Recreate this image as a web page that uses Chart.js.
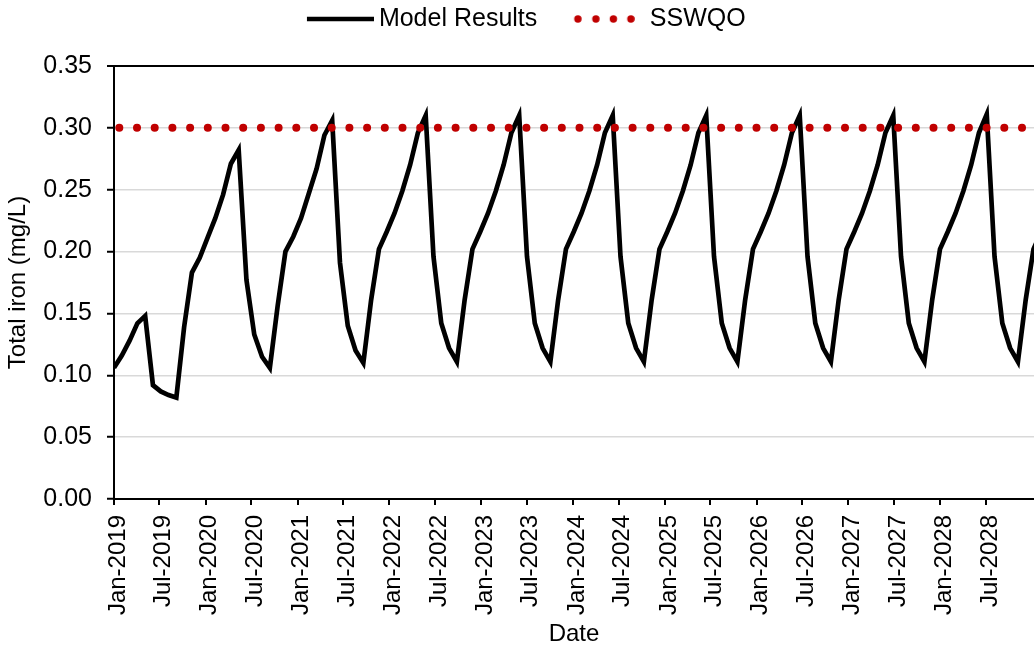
<!DOCTYPE html>
<html>
<head>
<meta charset="utf-8">
<script src="https://cdn.jsdelivr.net/npm/chart.js@4.4.0/dist/chart.umd.min.js"></script>
<style>
html,body{margin:0;padding:0;background:#fff;overflow:hidden}
#wrap{width:1034px;height:649px;position:relative}
</style>
</head>
<body>
<div id="wrap"><canvas id="c" width="1034" height="649"></canvas></div>
<script>
// ---- data ----
const startDate = Date.UTC(2019, 0, 1);   // first model output date
const stepDays = 31;                       // model output interval (days)
const modelResults = [
  0.106, 0.116, 0.128, 0.142, 0.148, 0.092, 0.087, 0.084, 0.082, 0.139,
  0.183, 0.195, 0.211, 0.227, 0.246, 0.271, 0.282, 0.177, 0.133, 0.115,
  0.106, 0.156, 0.200, 0.212, 0.227, 0.247, 0.267, 0.294, 0.306, 0.191,
  0.140, 0.120, 0.110, 0.161, 0.202, 0.216, 0.231, 0.249, 0.270, 0.296,
  0.310, 0.196, 0.142, 0.122, 0.111,
  0.161, 0.202, 0.216, 0.231, 0.249, 0.270, 0.296, 0.310, 0.196, 0.142, 0.122, 0.111,
  0.161, 0.202, 0.216, 0.231, 0.249, 0.270, 0.296, 0.310, 0.196, 0.142, 0.122, 0.111,
  0.161, 0.202, 0.216, 0.231, 0.249, 0.270, 0.296, 0.310, 0.196, 0.142, 0.122, 0.111,
  0.161, 0.202, 0.216, 0.231, 0.249, 0.270, 0.296, 0.310, 0.196, 0.142, 0.122, 0.111,
  0.161, 0.202, 0.216, 0.231, 0.249, 0.270, 0.296, 0.310, 0.196, 0.142, 0.122, 0.111,
  0.161, 0.202, 0.216, 0.231, 0.249, 0.270, 0.296, 0.311, 0.196, 0.142, 0.122, 0.111,
  0.161, 0.202, 0.216
];
const sswqoValue = 0.30;
const tickLabels = [
  'Jan-2019','Jul-2019','Jan-2020','Jul-2020','Jan-2021','Jul-2021','Jan-2022','Jul-2022',
  'Jan-2023','Jul-2023','Jan-2024','Jul-2024','Jan-2025','Jul-2025','Jan-2026','Jul-2026',
  'Jan-2027','Jul-2027','Jan-2028','Jul-2028'
];
const yMin = 0, yMax = 0.35, yStep = 0.05;
const axisEndDays = 3660;

// ---- derived ----
const monthIdx = {Jan: 0, Jul: 6};
const dayOf = lbl => {
  const [m, y] = lbl.split('-');
  return Math.round((Date.UTC(+y, monthIdx[m], 1) - startDate) / 86400000);
};
const tickDays = tickLabels.map(dayOf);
const modelPoints = modelResults.map((v, i) => ({x: i * stepDays, y: v}));
const lastDay = (modelResults.length - 1) * stepDays;
const sswqoPoints = [{x: 0, y: sswqoValue}, {x: lastDay, y: sswqoValue}];

// legend symbols
function makeLine() {
  const c = document.createElement('canvas');
  c.width = 105; c.height = 12;
  const g = c.getContext('2d');
  g.strokeStyle = '#000'; g.lineWidth = 4.3; g.lineCap = 'butt';
  g.beginPath(); g.moveTo(38, 6); g.lineTo(105, 6); g.stroke();
  return c;
}
function makeDots() {
  const c = document.createElement('canvas');
  c.width = 85; c.height = 12;
  const g = c.getContext('2d');
  g.fillStyle = '#c00000';
  [28.1, 46.1, 63.6, 81.1].forEach(x => { g.beginPath(); g.arc(x, 6, 3.7, 0, Math.PI * 2); g.fill(); });
  return c;
}
const legendLine = makeLine();
const legendDots = makeDots();

const legendPlugin = {
  id: 'legendTweak',
  beforeInit(chart) {
    const fit = chart.legend.fit;
    chart.legend.fit = function () { fit.call(this); this.height = 66; };
  },
  afterLayout(chart) {
    const lg = chart.legend;
    lg.left -= 6; lg.right -= 6; lg.top -= 3.5;
  }
};

Chart.defaults.font.family = "'Liberation Sans', Arial, sans-serif";
Chart.defaults.font.size = 24;
Chart.defaults.color = '#000';

new Chart(document.getElementById('c'), {
  type: 'line',
  data: {
    datasets: [
      {
        label: 'Model Results', data: modelPoints, borderColor: '#000', borderWidth: 4.7,
        pointRadius: 0, tension: 0, fill: false, order: 1, borderJoinStyle: 'miter'
      },
      {
        label: 'SSWQO', data: sswqoPoints, borderColor: '#c00000', borderWidth: 8,
        borderDash: [0.01, 17.69], borderDashOffset: 12.4, borderCapStyle: 'round',
        pointRadius: 0, fill: false, order: 0
      }
    ]
  },
  options: {
    responsive: false, animation: false, devicePixelRatio: 1, events: [],
    layout: {padding: 0},
    plugins: {
      tooltip: {enabled: false},
      legend: {
        position: 'top',
        labels: {
          usePointStyle: true, pointStyleWidth: 90, padding: 10, color: '#000',
          font: {size: 25},
          generateLabels: () => [
            {text: 'Model Results', pointStyle: legendLine, datasetIndex: 0, hidden: false,
             fillStyle: 'rgba(0,0,0,0)', strokeStyle: 'rgba(0,0,0,0)', lineWidth: 0, fontColor: '#000'},
            {text: 'SSWQO', pointStyle: legendDots, datasetIndex: 1, hidden: false,
             fillStyle: 'rgba(0,0,0,0)', strokeStyle: 'rgba(0,0,0,0)', lineWidth: 0, fontColor: '#000'}
          ]
        }
      }
    },
    scales: {
      x: {
        type: 'linear', min: 0, max: axisEndDays,
        afterBuildTicks: axis => { axis.ticks = tickDays.map(v => ({value: v})); },
        afterFit: s => { s.height = 150; },
        ticks: {
          autoSkip: false, minRotation: 90, maxRotation: 90, padding: 10, labelOffset: 4,
          color: '#000', font: {size: 24},
          callback: (v, i) => tickLabels[i]
        },
        grid: {drawOnChartArea: false, color: '#000', lineWidth: 2, tickLength: 6},
        border: {color: '#000', width: 2},
        title: {display: true, text: 'Date', color: '#000', font: {size: 24}, padding: {top: 0, bottom: 0}}
      },
      y: {
        min: yMin, max: yMax,
        afterFit: s => { s.width = 114; },
        ticks: {stepSize: yStep, padding: 15, color: '#000', font: {size: 25},
                callback: v => Number(v).toFixed(2)},
        grid: {
          color: c => (c.tick && c.tick.value >= yMax - 1e-6) ? '#000' : '#d9d9d9',
          lineWidth: c => (c.tick && c.tick.value >= yMax - 1e-6) ? 2 : 1.5,
          tickColor: '#000', tickWidth: 2, tickLength: 7
        },
        border: {color: '#000', width: 2},
        title: {display: true, text: 'Total iron (mg/L)', color: '#000', font: {size: 24}, padding: {top: 4, bottom: 4}}
      }
    }
  },
  plugins: [legendPlugin]
});
</script>
</body>
</html>
